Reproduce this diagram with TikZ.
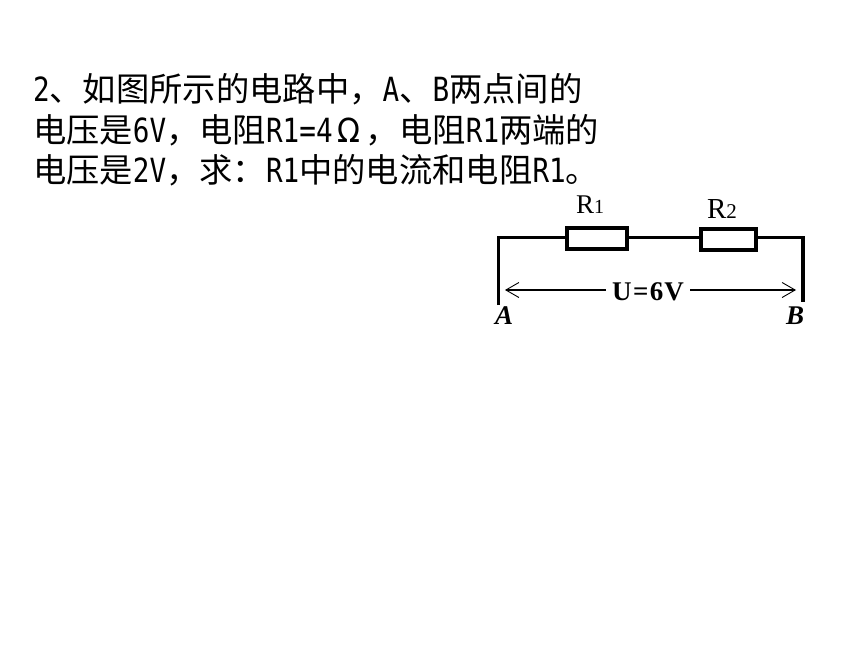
\documentclass[tikz,border=0pt]{standalone}
\usepackage{fontspec}
\usetikzlibrary{arrows.meta}
\setmainfont{Noto Sans CJK SC}
\newfontfamily\latfont[FakeStretch=0.83]{DejaVu Sans Mono}
\newfontfamily\omfont[FakeStretch=0.9]{DejaVu Sans}
\newfontfamily\serfont{Liberation Serif}
\newcommand{\hw}[1]{\makebox[16.65pt][c]{\latfont #1}}
\newcommand{\fw}[1]{\makebox[33.3pt][c]{\omfont #1}}
\tikzset{
  x=1pt,y=-1pt,
  textline/.style={anchor=base west,inner sep=0pt,outer sep=0pt,font=\fontsize{33.3}{40}\selectfont,text=black},
  wire/.style={draw=black,line width=3.6pt,line cap=butt},
  resistor/.style={draw=black,line width=4pt,fill=white,rectangle,inner sep=0pt,minimum height=21pt},
  dim/.style={draw=black,line width=1.6pt,-{Straight Barb[length=13pt,width=15pt,line width=0.9pt]}},
  circlabel/.style={inner sep=0pt,font=\serfont\fontsize{27}{30}\selectfont,text=black},
  endlabel/.style={inner sep=0pt,font=\serfont\bfseries\itshape\fontsize{27}{30}\selectfont,text=black}
}
\begin{document}
\begin{tikzpicture}
\useasboundingbox (0,0) rectangle (860,645);
\fill[white] (0,0) rectangle (860,645);
\node[textline] (l1) at (33,101) {\hw{2}、如图所示的电路中，\hw{A}、\hw{B}两点间的};
\node[textline] (l2) at (33,142) {电压是\hw{6}\hw{V}，电阻\hw{R}\hw{1}\hw{=}\hw{4}\fw{Ω}，电阻\hw{R}\hw{1}两端的};
\node[textline] (l3) at (33,182) {电压是\hw{2}\hw{V}，求：\hw{R}\hw{1}中的电流和电阻\hw{R}\hw{1}。};
\node[resistor,minimum width=60pt] (r1) at (596.5,238.5) {};
\node[resistor,minimum width=55pt] (r2) at (728.5,239) {};
\coordinate (tl) at (498.5,237.5);
\coordinate (bl) at (498.5,305);
\coordinate (tr) at (803,237.5);
\coordinate (br) at (803,302);
\draw[wire] (bl) -- (tl) -- (r1.west |- tl);
\draw[wire] (r1.east |- tl) -- (r2.west |- tl);
\draw[wire] (r2.east |- tr) -- (tr) -- (br);
\node[circlabel] (u) at (648,292) {\textbf{U\hspace{1.5pt}=\hspace{1.5pt}6\hspace{1pt}V}};
\coordinate (al) at (505,290);
\coordinate (ar) at (796,290);
\draw[dim] (u.west) ++(-6,-2) -- (al);
\draw[dim] (u.east) ++(6,-2) -- (ar);
\node[circlabel] (lr1) at (590,205) {R\fontsize{20}{20}\selectfont 1};
\node[circlabel,font=\serfont\fontsize{29}{30}\selectfont] (lr2) at (722,209) {R\fontsize{21}{21}\selectfont 2};
\node[endlabel] (la) at (504,316) {A};
\node[endlabel] (lb) at (795,316) {B};
\end{tikzpicture}
\end{document}
